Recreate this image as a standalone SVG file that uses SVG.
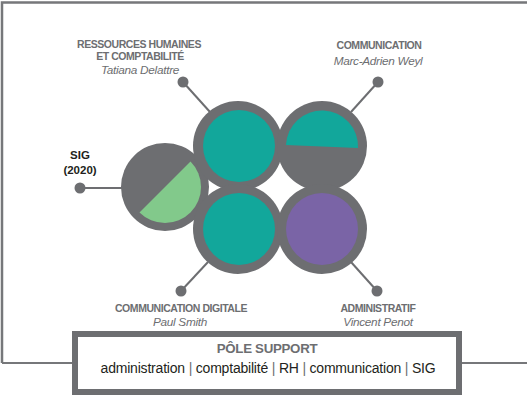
<svg xmlns="http://www.w3.org/2000/svg" width="527" height="396" viewBox="0 0 527 396">
<style>
.ring{fill:#6d6e71}
.teal{fill:#12a79b}
.green{fill:#82c98b}
.purple{fill:#7a64a6}
.con{stroke:#6d6e71;stroke-width:2;fill:none}
.dot{fill:#6d6e71}
.t{font-family:"Liberation Sans",Arial,sans-serif;font-weight:bold;font-size:10.5px;fill:#6d6e71;text-anchor:middle;letter-spacing:-0.45px}
.n{font-family:"Liberation Sans",Arial,sans-serif;font-style:italic;font-size:11.8px;fill:#6d6e71;text-anchor:middle;letter-spacing:-0.3px}
.s{font-family:"Liberation Sans",Arial,sans-serif;font-weight:bold;font-size:11.5px;fill:#231f20;text-anchor:middle}
</style>
<rect width="527" height="396" fill="#fff"/>
<g id="frame">
<path d="M2,363 V2.5 H527" stroke="#76777a" stroke-width="2.5" fill="none"/>
<path d="M2,363 H72 M462,363 H527" stroke="#76777a" stroke-width="2" fill="none"/>
</g>
<g id="connectors">
<line class="con" x1="183" y1="82" x2="210" y2="112"/>
<line class="con" x1="378" y1="82" x2="351" y2="112"/>
<line class="con" x1="80" y1="188" x2="122" y2="188"/>
<line class="con" x1="181" y1="291" x2="208" y2="262"/>
<line class="con" x1="377" y1="291" x2="351" y2="262"/>
<circle class="dot" cx="183" cy="82" r="5.5"/>
<circle class="dot" cx="378" cy="82" r="5.5"/>
<circle class="dot" cx="80" cy="188" r="5.5"/>
<circle class="dot" cx="181" cy="291" r="5.5"/>
<circle class="dot" cx="377" cy="291" r="5.5"/>
</g>
<g id="sig">
<circle class="ring" cx="165" cy="187" r="44"/>
<path class="green" d="M139.5,212.5 L190.5,161.5 A36,36 0 0 1 139.5,212.5 Z"/>
<text class="s" x="80" y="159">SIG</text>
<text class="s" x="80" y="174">(2020)</text>
</g>
<g id="rh">
<circle class="ring" cx="238" cy="146" r="45"/>
<circle class="teal" cx="239" cy="146" r="36"/>
<text class="t" x="139" y="48">RESSOURCES HUMAINES</text>
<text class="t" x="140" y="60">ET COMPTABILITÉ</text>
<text class="n" x="140" y="74">Tatiana Delattre</text>
</g>
<g id="communication">
<circle class="ring" cx="322" cy="146" r="45"/>
<path class="teal" d="M286,145 A36,36 0 0 1 358,148 Z"/>
<text class="t" x="379" y="49">COMMUNICATION</text>
<text class="n" x="378" y="65">Marc-Adrien Weyl</text>
</g>
<g id="digitale">
<circle class="ring" cx="238" cy="229" r="45"/>
<circle class="teal" cx="239" cy="229" r="36"/>
<text class="t" x="181" y="312">COMMUNICATION DIGITALE</text>
<text class="n" x="180" y="326">Paul Smith</text>
</g>
<g id="administratif">
<circle class="ring" cx="322" cy="229" r="45"/>
<circle class="purple" cx="322" cy="229" r="36"/>
<text class="t" x="378" y="312">ADMINISTRATIF</text>
<text class="n" x="378" y="326">Vincent Penot</text>
</g>
<g id="pole">
<rect x="75" y="334" width="384" height="58" fill="#fff" stroke="#6d6e71" stroke-width="6"/>
<text x="267" y="353" font-family="Liberation Sans,Arial,sans-serif" font-weight="bold" font-size="13.3" fill="#6d6e71" text-anchor="middle" letter-spacing="-0.3">PÔLE SUPPORT</text>
<text x="268" y="373" font-family="Liberation Sans,Arial,sans-serif" font-size="14" fill="#231f20" text-anchor="middle" letter-spacing="-0.2">administration <tspan fill="#6d6e71">|</tspan> comptabilité <tspan fill="#6d6e71">|</tspan> RH <tspan fill="#6d6e71">|</tspan> communication <tspan fill="#6d6e71">|</tspan> SIG</text>
</g>
</svg>
